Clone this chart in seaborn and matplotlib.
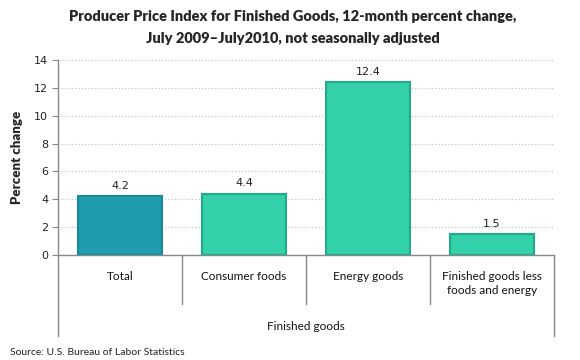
import matplotlib
matplotlib.use('Agg')
import matplotlib.pyplot as plt
import matplotlib.transforms as mtransforms
import seaborn as sns

# Data
categories = ['Total', 'Consumer foods', 'Energy goods', 'Finished goods less\nfoods and energy']
values = [4.2, 4.4, 12.4, 1.5]
fill_colors = ['#219CAD', '#33D1A9', '#33D1A9', '#33D1A9']
edge_colors = ['#178998', '#22A987', '#22A987', '#22A987']
yticks = [0, 2, 4, 6, 8, 10, 12, 14]
group_label = 'Finished goods'

sns.set_style('white')
plt.rcParams['font.family'] = ['Lato', 'DejaVu Sans']

fig = plt.figure(figsize=(5.8, 3.6), dpi=100)
ax = fig.add_axes([0.1, 0.2917, 0.855, 0.5417])

sns.barplot(x=list(range(len(categories))), y=values, hue=list(range(len(categories))),
            palette=fill_colors, saturation=1, legend=False, width=0.68, ax=ax, zorder=3)
for patch, ec in zip(ax.patches, edge_colors):
    patch.set_edgecolor(ec)
    patch.set_linewidth(1.5)

for c in ax.containers:
    ax.bar_label(c, fmt='%.1f', padding=4, fontsize=8, family='DejaVu Sans', color='#222222')

ax.set_xlim(-0.5, len(categories) - 0.5)
ax.set_ylim(0, 14)
ax.set_yticks(yticks)
ax.set_yticklabels([str(t) for t in yticks], family='DejaVu Sans', fontsize=8, color='#222222')
ax.tick_params(axis='y', length=4, width=0.8, color='#888888', pad=3, left=True)
ax.set_xticks([])
ax.set_xlabel('')
ax.yaxis.grid(True, linestyle=(0, (1, 2)), color='#BBBBBB', linewidth=0.8, zorder=0)

for s in ['top', 'right']:
    ax.spines[s].set_visible(False)
for s in ['left', 'bottom']:
    ax.spines[s].set_color('#888888')
    ax.spines[s].set_linewidth(1.0)

ax.set_ylabel('Percent change', fontsize=9.5, fontweight='heavy', labelpad=8)

# category labels and group separators below the axis
trans = mtransforms.blended_transform_factory(ax.transData, ax.transAxes)
for i, cat in enumerate(categories):
    ax.text(i, -0.08, cat, transform=trans, ha='center', va='top', fontsize=8.5,
            linespacing=1.35, color='#111111')
n = len(categories)
for b in range(1, n):
    ax.plot([b - 0.5, b - 0.5], [0, -0.251], transform=trans, color='#888888',
            linewidth=1.0, clip_on=False)
for b in [-0.5, n - 0.5]:
    ax.plot([b, b], [0, -0.415], transform=trans, color='#888888',
            linewidth=1.0, clip_on=False)
ax.text((n - 1) / 2, -0.365, group_label, transform=trans, ha='center', va='center',
        fontsize=8.5, color='#111111')

fig.text(0.505, 0.953, 'Producer Price Index for Finished Goods, 12-month percent change,',
         ha='center', va='center', fontsize=10.5, fontweight='heavy')
fig.text(0.505, 0.892, 'July 2009\u2013July2010, not seasonally adjusted',
         ha='center', va='center', fontsize=10.5, fontweight='heavy')
fig.text(0.017, 0.022, 'Source: U.S. Bureau of Labor Statistics', ha='left', va='center',
         fontsize=7.5, color='#222222')

fig.savefig('out.png', dpi=100)
